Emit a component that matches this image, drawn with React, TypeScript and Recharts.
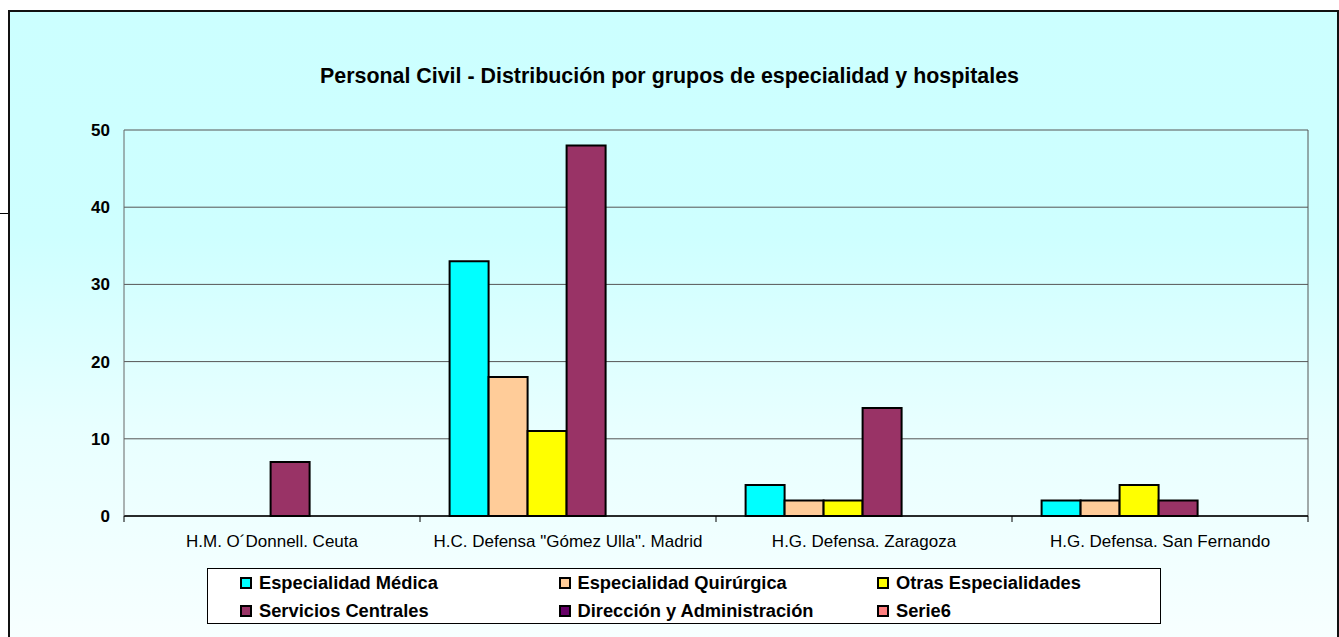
import { BarChart, Bar, XAxis, YAxis, CartesianGrid } from "recharts";

const hospitals = [
  "H.M. O´Donnell. Ceuta",
  'H.C. Defensa "Gómez Ulla". Madrid',
  "H.G. Defensa. Zaragoza",
  "H.G. Defensa. San Fernando",
];

const medica = [0, 33, 4, 2];
const quirurgica = [0, 18, 2, 2];
const otras = [0, 11, 2, 4];
const servicios = [7, 48, 14, 2];
const direccion = [0, 0, 0, 0];
const serie6 = [0, 0, 0, 0];

const yTicks = [0, 10, 20, 30, 40, 50];

const series = [
  { key: "medica", name: "Especialidad Médica", color: "#00FFFF", values: medica },
  { key: "quirurgica", name: "Especialidad Quirúrgica", color: "#FFCC99", values: quirurgica },
  { key: "otras", name: "Otras Especialidades", color: "#FFFF00", values: otras },
  { key: "servicios", name: "Servicios Centrales", color: "#993366", values: servicios },
  { key: "direccion", name: "Dirección y Administración", color: "#660066", values: direccion },
  { key: "serie6", name: "Serie6", color: "#FF8080", values: serie6 },
];

const data = hospitals.map((h, i) => {
  const row: Record<string, string | number> = { name: h };
  series.forEach((s) => {
    row[s.key] = s.values[i];
  });
  return row;
});

const FONT = '"Liberation Sans", Arial, sans-serif';

// category label plus the Excel-style tick marks between categories
function HospitalTick(props: any) {
  const { x, y, payload, index, visibleTicksCount, width } = props;
  const half =
    payload && typeof payload.offset === "number" && payload.offset > 0
      ? payload.offset
      : width / (visibleTicksCount || hospitals.length) / 2;
  const axisY = y - 19;
  const last = index === (visibleTicksCount || hospitals.length) - 1;
  return (
    <g>
      <line x1={x - half} x2={x - half} y1={axisY} y2={axisY + 6} stroke="#000" strokeWidth={1} />
      {last && <line x1={x + half} x2={x + half} y1={axisY} y2={axisY + 6} stroke="#000" strokeWidth={1} />}
      <text x={x} y={y} dy="0.71em" textAnchor="middle" fill="#000" fontSize={17} fontFamily={FONT}>
        {payload.value}
      </text>
    </g>
  );
}

export default function App() {
  return (
    <div
      style={{
        position: "absolute",
        left: 0,
        top: 0,
        width: 1339,
        height: 637,
        overflow: "hidden",
        background: "#fff",
        fontFamily: FONT,
      }}
    >
      {/* stray line left of the frame */}
      <div style={{ position: "absolute", left: 0, top: 213, width: 9, height: 1, background: "#000" }} />

      {/* chart frame */}
      <div
        style={{
          position: "absolute",
          left: 8,
          top: 10,
          width: 1327,
          height: 640,
          border: "2px solid #111",
          background: "linear-gradient(to bottom, #CCFFFF 0%, #CEFFFF 35%, #E8FFFF 65%, #F8FFFF 100%)",
        }}
      />

      <div
        style={{
          position: "absolute",
          left: 0,
          top: 64,
          width: 1339,
          textAlign: "center",
          fontSize: 21.4,
          fontWeight: "bold",
          color: "#000",
        }}
      >
        Personal Civil - Distribución por grupos de especialidad y hospitales
      </div>

      <div style={{ position: "absolute", left: 0, top: 0 }}>
        <BarChart
          width={1339}
          height={637}
          data={data}
          margin={{ top: 130, right: 31, bottom: 91, left: 64 }}
          barCategoryGap="10%"
          barGap={0}
        >
          <CartesianGrid horizontal vertical={false} stroke="#555" strokeWidth={1} />
          <CartesianGrid
            horizontal={false}
            vertical
            stroke="#555"
            verticalCoordinatesGenerator={({ offset }: any) => [offset.left + offset.width]}
          />
          <XAxis
            dataKey="name"
            height={30}
            tickLine={false}
            tickSize={6}
            tickMargin={13}
            axisLine={{ stroke: "#000", strokeWidth: 1.5 }}
            tick={<HospitalTick />}
            interval={0}
          />
          <YAxis
            domain={[0, 50]}
            ticks={yTicks}
            width={60}
            tickLine={false}
            tickSize={6}
            tickMargin={8}
            axisLine={{ stroke: "#666" }}
            tick={{ fill: "#000", fontSize: 17, fontWeight: "bold", fontFamily: FONT }}
          />
          {series.map((s) => (
            <Bar
              key={s.key}
              dataKey={s.key}
              name={s.name}
              fill={s.color}
              stroke="#000"
              strokeWidth={2}
              isAnimationActive={false}
            />
          ))}
        </BarChart>
      </div>

      {/* legend */}
      <div
        style={{
          position: "absolute",
          left: 207,
          top: 568,
          width: 954,
          height: 56,
          border: "1px solid #000",
          background: "#fff",
          boxSizing: "border-box",
        }}
      >
        {series.map((s, i) => {
          const col = i % 3;
          const row = Math.floor(i / 3);
          return (
            <div
              key={s.key}
              style={{
                position: "absolute",
                left: 32 + col * 318.5,
                top: 3 + row * 28,
                height: 22,
                display: "flex",
                alignItems: "center",
                whiteSpace: "nowrap",
              }}
            >
              <div
                style={{
                  width: 12,
                  height: 12,
                  boxSizing: "border-box",
                  border: "2px solid #000",
                  background: s.color,
                  marginRight: 7,
                }}
              />
              <span style={{ fontSize: 18.3, fontWeight: "bold", color: "#000" }}>{s.name}</span>
            </div>
          );
        })}
      </div>
    </div>
  );
}
